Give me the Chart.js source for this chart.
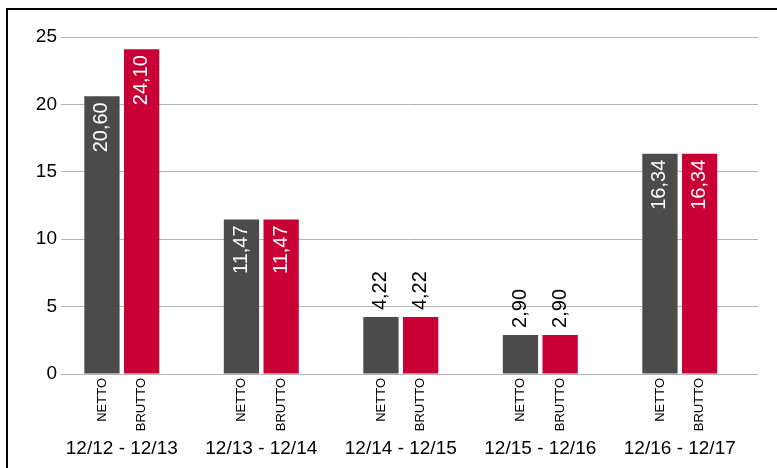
<!DOCTYPE html>
<html>
<head>
<meta charset="utf-8">
<script src="https://cdn.jsdelivr.net/npm/chart.js@4"></script>
<style>
    html, body { margin: 0; padding: 0; background: #fff; overflow: hidden; }
    #wrap { position: relative; width: 777px; height: 468px; }
    #frame {
        position: absolute; left: 6px; top: 8px; width: 900px; height: 600px;
        border-left: 2px solid #000; border-top: 2px solid #000; pointer-events: none;
    }
</style>
</head>
<body>
<div id="wrap">
    <canvas id="chart" width="777" height="468"></canvas>
    <div id="frame"></div>
</div>
<script>
const categories = ['12/12 - 12/13', '12/13 - 12/14', '12/14 - 12/15', '12/15 - 12/16', '12/16 - 12/17'];
const seriesNames = ['NETTO', 'BRUTTO'];
const nettoValues = [20.60, 11.47, 4.22, 2.90, 16.34];
const bruttoValues = [24.10, 11.47, 4.22, 2.90, 16.34];
const yMin = 0;
const yMax = 25;
const yStep = 5;

const FONT = '"Liberation Sans", Arial, Helvetica, sans-serif';

// bars sit on a linear index axis so the grid can run a bit past the last group
const toPoints = values => values.map((v, i) => ({ x: i, y: v }));

// NETTO / BRUTTO under each bar, plus the rotated value labels
const barLabels = {
    id: 'barLabels',
    afterDatasetsDraw(chart) {
        const ctx = chart.ctx;
        const zeroY = chart.scales.y.getPixelForValue(0);
        ctx.save();
        chart.data.datasets.forEach((ds, di) => {
            const meta = chart.getDatasetMeta(di);
            meta.data.forEach((bar, i) => {
                const value = ds.data[i].y;
                const text = value.toFixed(2).replace('.', ',');

                // series name below the axis
                ctx.save();
                ctx.translate(bar.x, zeroY + 4);
                ctx.rotate(-Math.PI / 2);
                ctx.font = '13px ' + FONT;
                ctx.fillStyle = '#000';
                ctx.textAlign = 'right';
                ctx.textBaseline = 'middle';
                ctx.fillText(seriesNames[di], 0, 0);
                ctx.restore();

                // value label
                ctx.save();
                ctx.font = '20px ' + FONT;
                const w = ctx.measureText(text).width;
                const h = bar.base - bar.y;
                ctx.translate(bar.x, bar.y);
                ctx.rotate(-Math.PI / 2);
                ctx.textBaseline = 'middle';
                if (h > w + 20) {
                    ctx.fillStyle = '#fff';
                    ctx.textAlign = 'right';
                    ctx.fillText(text, -6, 0);
                } else {
                    ctx.fillStyle = '#000';
                    ctx.textAlign = 'left';
                    ctx.fillText(text, 7, 0);
                }
                ctx.restore();
            });
        });
        ctx.restore();
    }
};

new Chart(document.getElementById('chart'), {
    type: 'bar',
    data: {
        datasets: [
            { label: seriesNames[0], data: toPoints(nettoValues), backgroundColor: '#4b4b4b' },
            { label: seriesNames[1], data: toPoints(bruttoValues), backgroundColor: '#c80036' }
        ]
    },
    options: {
        responsive: false,
        animation: false,
        layout: { padding: { top: 37, right: 19, bottom: 0, left: 0 } },
        datasets: {
            bar: { categoryPercentage: 0.569, barPercentage: 0.889 }
        },
        plugins: {
            legend: { display: false },
            tooltip: { enabled: false }
        },
        scales: {
            x: {
                type: 'linear',
                min: -0.4358,
                max: 4.5606,
                offset: false,
                grid: { display: false, drawTicks: false, offset: false },
                border: { display: false },
                ticks: {
                    stepSize: 1,
                    includeBounds: false,
                    autoSkip: false,
                    maxRotation: 0,
                    padding: 63,
                    color: '#000',
                    font: { family: FONT, size: 19 },
                    callback: v => categories[v] ?? ''
                },
                afterFit(scale) {
                    scale.height = 94;
                    scale.paddingLeft = 0;
                    scale.paddingRight = 0;
                }
            },
            y: {
                min: yMin,
                max: yMax,
                grid: { color: '#b4b4b4', drawTicks: false },
                border: { display: false },
                ticks: {
                    stepSize: yStep,
                    padding: 4,
                    color: '#000',
                    font: { family: FONT, size: 19 }
                },
                afterFit(scale) {
                    scale.width = 61;
                    scale.paddingTop = 0;
                    scale.paddingBottom = 0;
                }
            }
        }
    },
    plugins: [barLabels]
});
</script>
</body>
</html>
